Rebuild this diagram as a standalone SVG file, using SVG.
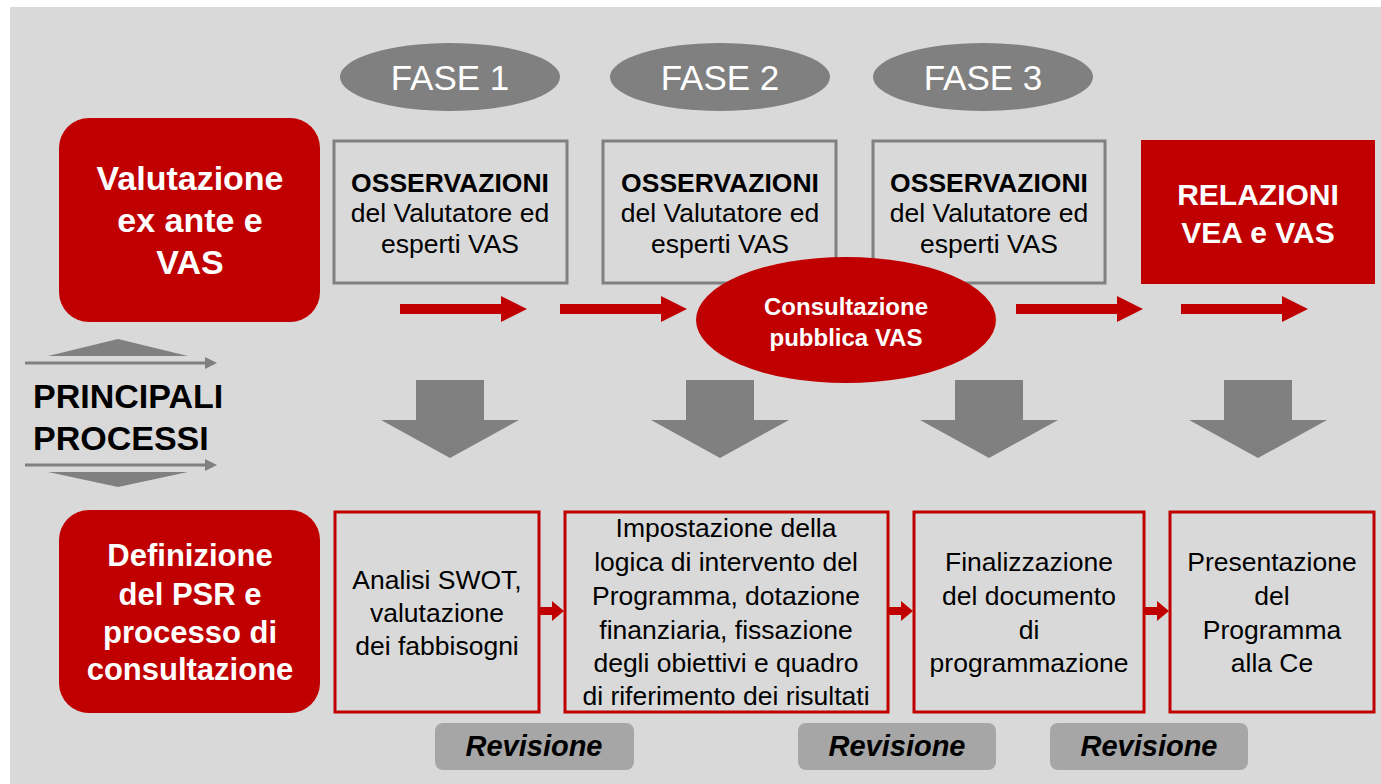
<svg xmlns="http://www.w3.org/2000/svg" width="1381" height="784" viewBox="0 0 1381 784">
<style>
text{font-family:"Liberation Sans",Arial,sans-serif;text-anchor:middle;dominant-baseline:central}
.w{fill:#fff}
.b{font-weight:bold}
.phase{fill:#808080}
.obs{fill:none;stroke:#808080;stroke-width:3}
.proc{fill:none;stroke:#c00000;stroke-width:3}
.red{fill:#c00000}
.gray{fill:#808080}
.rev{fill:#a6a6a6}
.t23{font-size:26.5px;fill:#000}
.t24{font-size:26.5px;fill:#000}
.rv{font-size:29px;font-weight:bold;font-style:italic;fill:#000}
</style>
<defs>
<path id="redArr" d="M0,-5 H101 V-13 L127,0 L101,13 V5 H0 Z"/>
<path id="grayArr" d="M-34,0 H34 V40 H69 L0,78 L-69,40 H-34 Z"/>
<path id="smallArr" d="M0,-4 H12 V-10 L24,0 L12,10 V4 H0 Z"/>
</defs>
<rect x="0" y="0" width="1381" height="784" fill="#fff"/>
<rect x="10" y="7" width="1371" height="777" fill="#d9d9d9"/>

<g id="phase1"><ellipse class="phase" cx="450" cy="77" rx="110" ry="34"/><text class="w" x="450" y="77" font-size="35">FASE 1</text></g>
<g id="phase2"><ellipse class="phase" cx="720" cy="77" rx="110" ry="34"/><text class="w" x="720" y="77" font-size="35">FASE 2</text></g>
<g id="phase3"><ellipse class="phase" cx="983" cy="77" rx="110" ry="34"/><text class="w" x="983" y="77" font-size="35">FASE 3</text></g>

<g id="valutazione"><rect class="red" x="59" y="118" width="261" height="204" rx="30"/>
<text class="w b" x="190" y="178" font-size="34">Valutazione</text>
<text class="w b" x="190" y="220" font-size="34">ex ante e</text>
<text class="w b" x="190" y="262" font-size="34">VAS</text></g>

<g id="obs1"><rect class="obs" x="334" y="141" width="233" height="142"/>
<text class="t24 b" x="450" y="183">OSSERVAZIONI</text>
<text class="t24" x="450" y="213">del Valutatore ed</text>
<text class="t24" x="450" y="244">esperti VAS</text></g>
<g id="obs2"><rect class="obs" x="603" y="141" width="233" height="142"/>
<text class="t24 b" x="720" y="183">OSSERVAZIONI</text>
<text class="t24" x="720" y="213">del Valutatore ed</text>
<text class="t24" x="720" y="244">esperti VAS</text></g>
<g id="obs3"><rect class="obs" x="873" y="141" width="232" height="142"/>
<text class="t24 b" x="989" y="183">OSSERVAZIONI</text>
<text class="t24" x="989" y="213">del Valutatore ed</text>
<text class="t24" x="989" y="244">esperti VAS</text></g>

<g id="relazioni"><rect class="red" x="1141" y="140" width="234" height="144"/>
<text class="w b" x="1258" y="194" font-size="30">RELAZIONI</text>
<text class="w b" x="1258" y="232" font-size="30">VEA e VAS</text></g>

<g id="connectors">
<use href="#redArr" class="red" x="400" y="309"/>
<use href="#redArr" class="red" x="560" y="309"/>
<use href="#redArr" class="red" x="1016" y="309"/>
<use href="#redArr" class="red" x="1181" y="309"/>
<use href="#grayArr" class="gray" x="450" y="380"/>
<use href="#grayArr" class="gray" x="720" y="380"/>
<use href="#grayArr" class="gray" x="989" y="380"/>
<use href="#grayArr" class="gray" x="1258" y="380"/>
<use href="#smallArr" class="red" x="540" y="611"/>
<use href="#smallArr" class="red" x="889" y="611"/>
<use href="#smallArr" class="red" x="1145" y="611"/>
</g>

<g id="consultazione"><ellipse class="red" cx="846" cy="320" rx="150" ry="63"/>
<text class="w b" x="846" y="306" font-size="24">Consultazione</text>
<text class="w b" x="846" y="337" font-size="24">pubblica VAS</text></g>

<g id="principali">
<polygon class="gray" points="118,339 188,356 48,356"/>
<line x1="25" y1="363" x2="206" y2="363" stroke="#808080" stroke-width="3"/>
<polygon class="gray" points="205,357 217,363 205,369"/>
<text x="33" y="396" font-size="34" font-weight="bold" fill="#000" style="text-anchor:start">PRINCIPALI</text>
<text x="33" y="438" font-size="34" font-weight="bold" fill="#000" style="text-anchor:start">PROCESSI</text>
<line x1="25" y1="465" x2="206" y2="465" stroke="#808080" stroke-width="3"/>
<polygon class="gray" points="205,459 217,465 205,471"/>
<polygon class="gray" points="48,472 188,472 118,487"/>
</g>

<g id="definizione"><rect class="red" x="59" y="510" width="261" height="203" rx="30"/>
<text class="w b" x="190" y="555" font-size="31">Definizione</text>
<text class="w b" x="190" y="594" font-size="31">del PSR e</text>
<text class="w b" x="190" y="632" font-size="31">processo di</text>
<text class="w b" x="190" y="669" font-size="31">consultazione</text></g>

<g id="proc1"><rect class="proc" x="335" y="512" width="204" height="200"/>
<text class="t23" x="437" y="580">Analisi SWOT,</text>
<text class="t23" x="437" y="613">valutazione</text>
<text class="t23" x="437" y="646">dei fabbisogni</text></g>
<g id="proc2"><rect class="proc" x="565" y="512" width="323" height="200"/>
<text class="t23" x="726" y="528">Impostazione della</text>
<text class="t23" x="726" y="562">logica di intervento del</text>
<text class="t23" x="726" y="596">Programma, dotazione</text>
<text class="t23" x="726" y="630">finanziaria, fissazione</text>
<text class="t23" x="726" y="663">degli obiettivi e quadro</text>
<text class="t23" x="726" y="696">di riferimento dei risultati</text></g>
<g id="proc3"><rect class="proc" x="914" y="512" width="230" height="200"/>
<text class="t23" x="1029" y="562">Finalizzazione</text>
<text class="t23" x="1029" y="596">del documento</text>
<text class="t23" x="1029" y="630">di</text>
<text class="t23" x="1029" y="663">programmazione</text></g>
<g id="proc4"><rect class="proc" x="1170" y="512" width="204" height="200"/>
<text class="t23" x="1272" y="562">Presentazione</text>
<text class="t23" x="1272" y="596">del</text>
<text class="t23" x="1272" y="630">Programma</text>
<text class="t23" x="1272" y="663">alla Ce</text></g>

<g id="rev1"><rect class="rev" x="435" y="723" width="199" height="47" rx="8"/><text class="rv" x="534" y="746">Revisione</text></g>
<g id="rev2"><rect class="rev" x="798" y="723" width="198" height="47" rx="8"/><text class="rv" x="897" y="746">Revisione</text></g>
<g id="rev3"><rect class="rev" x="1050" y="723" width="198" height="47" rx="8"/><text class="rv" x="1149" y="746">Revisione</text></g>
</svg>
